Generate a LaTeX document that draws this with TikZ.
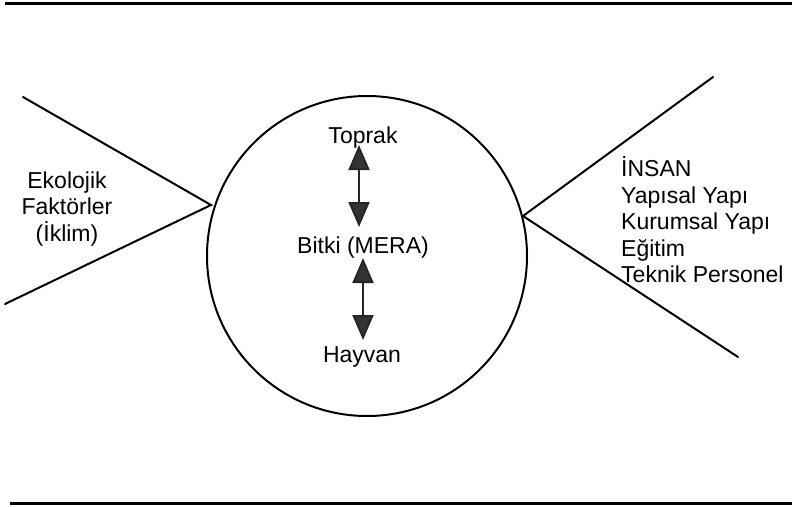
\documentclass[tikz,border=0pt]{standalone}
\usepackage{fontspec}
\setmainfont{Liberation Sans}
\usetikzlibrary{arrows.meta}
\begin{document}
\begin{tikzpicture}[x=1pt,y=-1pt,
  txt/.style={font=\fontsize{23}{26.5}\selectfont, inner sep=0pt},
  edge/.style={line width=2pt, line cap=round},
  rulel/.style={line width=3pt},
  dbl/.style={line width=2pt, {Triangle[length=25pt,width=21pt,fill=black!80]}-{Triangle[length=25pt,width=21pt,fill=black!80]}, draw=black!85}]
\useasboundingbox (0,0) rectangle (792,506);
% rules
\coordinate (t1) at (5,3); \coordinate (t2) at (792,3);
\coordinate (b1) at (10,503); \coordinate (b2) at (792,503);
\draw[rulel] (t1) -- (t2);
\draw[rulel] (b1) -- (b2);
% circle
\node[circle, draw, line width=2pt, minimum size=320pt, inner sep=0pt] (circ) at (367,256) {};
% left wedge
\coordinate (L) at (211,205);
\coordinate (Lu) at (23,97);
\coordinate (Ld) at (5,304);
\draw[edge] (Lu) -- (L) -- (Ld);
% right wedge
\coordinate (R) at (523,216);
\coordinate (Ru) at (713,77);
\coordinate (Rd) at (738,357);
\draw[edge] (Ru) -- (R) -- (Rd);
% texts
\node[txt, align=center] (eko) at (67,209) {Ekolojik\\Faktörler\\(İklim)};
\node[txt, align=left, anchor=west] (insan) at (621,220) {İNSAN\\Yapısal Yapı\\Kurumsal Yapı\\Eğitim\\Teknik Personel};
\node[txt] (toprak) at (363,138) {Toprak};
\node[txt] (bitki) at (363,248) {Bitki (MERA)};
\node[txt] (hayvan) at (362,357) {Hayvan};
% arrows
\coordinate (a1s) at (359,145); \coordinate (a1e) at (359,227);
\coordinate (a2s) at (363,258); \coordinate (a2e) at (363,340);
\draw[dbl] (a1s) -- (a1e);
\draw[dbl] (a2s) -- (a2e);
\end{tikzpicture}
\end{document}
